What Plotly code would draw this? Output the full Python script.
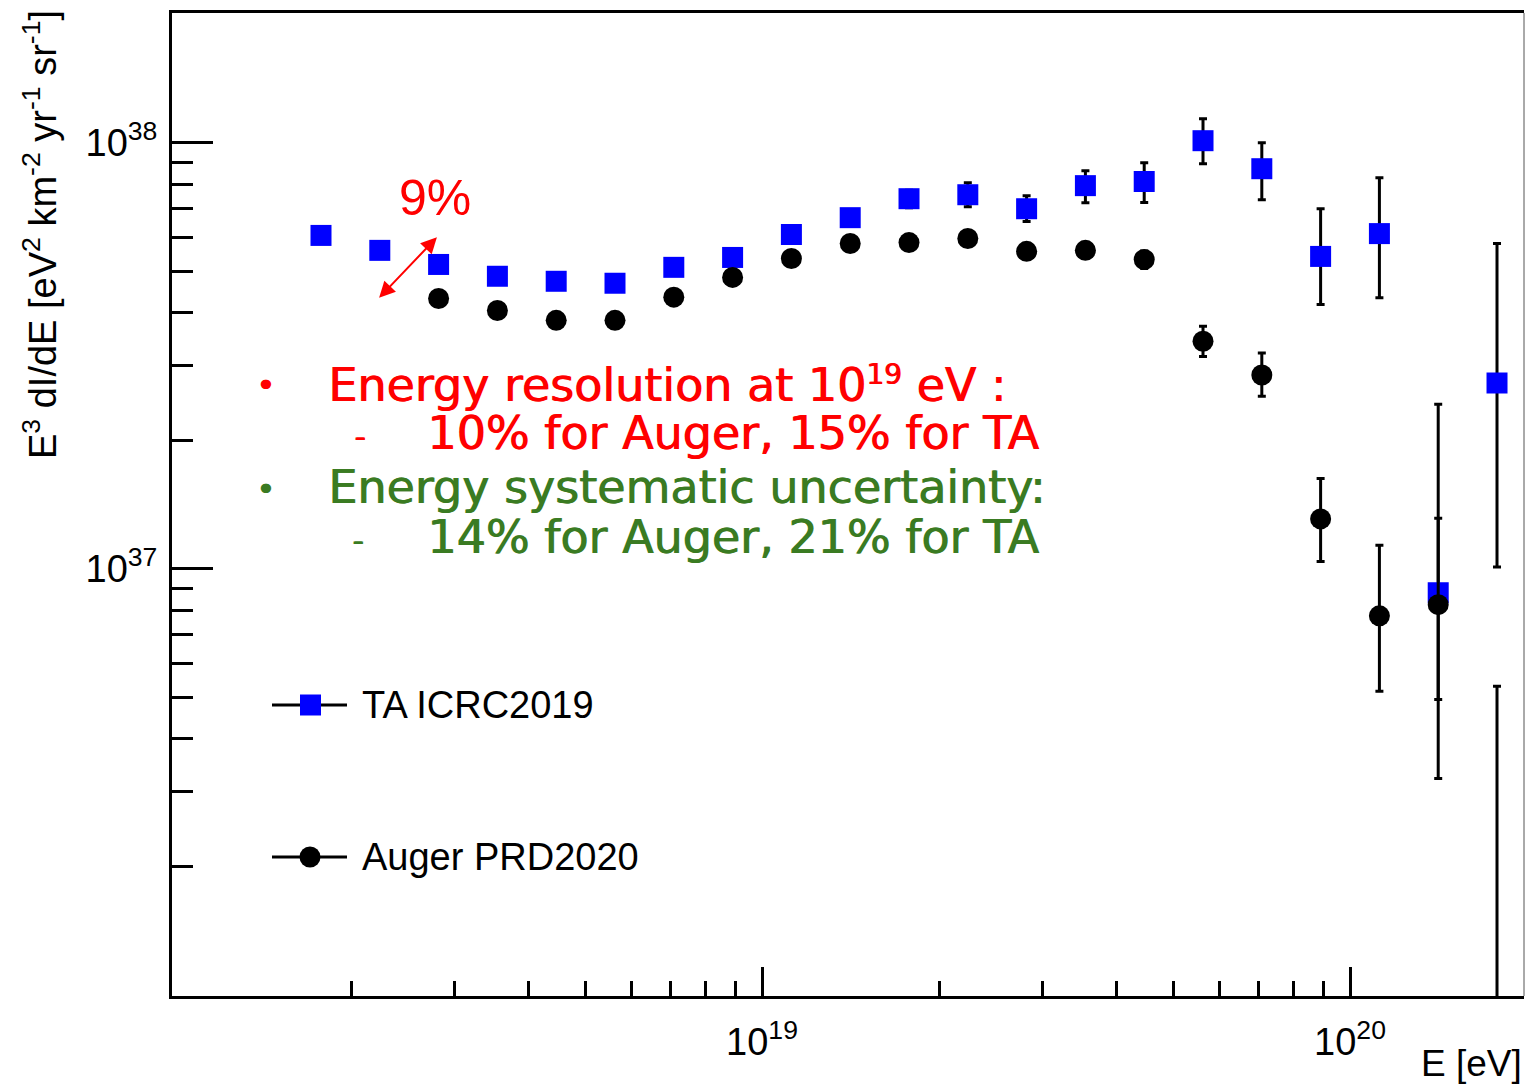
import numpy as np
import plotly.graph_objects as go

# ---------------- data ----------------
# log10(E/eV) bin centres
ta_logE = [18.25, 18.35, 18.45, 18.55, 18.65, 18.75, 18.85, 18.95, 19.05, 19.15, 19.25,
           19.35, 19.45, 19.55, 19.65, 19.75, 19.85, 19.95, 20.05, 20.15, 20.25]
# E^3 J  in units of 1e37 eV^2 km^-2 yr^-1 sr^-1
ta_flux = [6.06, 5.59, 5.18, 4.86, 4.73, 4.68, 5.10, 5.38, 6.09, 6.67, 7.39,
           7.55, 7.00, 7.93, 8.11, 10.11, 8.69, 5.41, 6.12, 0.879, 2.73]
ta_err_up = [0.10, 0.10, 0.10, 0.10, 0.10, 0.10, 0.12, 0.14, 0.18, 0.25, 0.35,
             0.51, 0.51, 0.67, 0.87, 1.27, 1.31, 1.59, 2.16, 1.555, 3.07]
ta_err_dn = [0.10, 0.10, 0.10, 0.10, 0.10, 0.10, 0.12, 0.14, 0.18, 0.25, 0.35,
             0.47, 0.47, 0.70, 0.87, 1.18, 1.34, 1.24, 1.79, 0.557, 1.72]

auger_logE = [18.45, 18.55, 18.65, 18.75, 18.85, 18.95, 19.05, 19.15, 19.25, 19.35,
              19.45, 19.55, 19.65, 19.75, 19.85, 19.95, 20.05, 20.15, 20.25]
auger_flux = [4.31, 4.04, 3.83, 3.83, 4.34, 4.83, 5.35, 5.80, 5.83, 5.96,
              5.56, 5.59, 5.32, 3.42, 2.85, 1.31, 0.776, 0.824, 0.07]
auger_err_up = [0.03, 0.03, 0.03, 0.04, 0.05, 0.06, 0.08, 0.10, 0.12, 0.15,
                0.18, 0.22, 0.25, 0.29, 0.36, 0.32, 0.36, 0.49, 0.46]
auger_err_dn = [0.03, 0.03, 0.03, 0.04, 0.05, 0.06, 0.08, 0.10, 0.12, 0.15,
                0.18, 0.22, 0.25, 0.27, 0.31, 0.27, 0.26, 0.33, 0.0]

UNIT = 1e37

# 9% arrow end points (E in eV, flux in units of 1e37)
arrow_E = [2.22e18, 2.80e18]
arrow_F = [4.29, 6.00]

x_major = [1e19, 1e20]
x_major_text = ["10<sup>19</sup>", "10<sup>20</sup>"]
y_major = [1e37, 1e38]
y_major_text = ["10<sup>37</sup>", "10<sup>38</sup>"]

# ---------------- figure ----------------
W, H = 1526, 1084
L, R, T, B = 172, 1524, 13, 996


def px_x(p):
    return (p - L) / (R - L)


def px_y(p):
    return (B - p) / (B - T)


ta_E = [10.0 ** v for v in ta_logE]
au_E = [10.0 ** v for v in auger_logE]

fig = go.Figure()
fig.add_trace(go.Scatter(
    x=ta_E, y=[v * UNIT for v in ta_flux], mode="markers", name="TA ICRC2019",
    marker=dict(symbol="square", size=21, color="#0000ff", line=dict(width=0)),
    error_y=dict(type="data", symmetric=False,
                 array=[v * UNIT for v in ta_err_up],
                 arrayminus=[v * UNIT for v in ta_err_dn],
                 color="black", thickness=3, width=4),
    showlegend=False,
))
fig.add_trace(go.Scatter(
    x=au_E, y=[v * UNIT for v in auger_flux], mode="markers", name="Auger PRD2020",
    marker=dict(symbol="circle", size=21, color="black", line=dict(width=0)),
    error_y=dict(type="data", symmetric=False,
                 array=[v * UNIT for v in auger_err_up],
                 arrayminus=[v * UNIT for v in auger_err_dn],
                 color="black", thickness=3, width=4),
    showlegend=False,
))

x_minor = [float(k) * 10.0 ** e for e in (18, 19) for k in range(2, 10)]
y_minor = [float(k) * 10.0 ** e for e in (36, 37) for k in range(2, 10)]

tick_font = dict(family="Liberation Sans, Arial, sans-serif", size=38, color="black")

fig.update_xaxes(
    type="log", range=[17.9966, 20.2959],
    showline=True, linecolor="black", linewidth=3, mirror=True,
    showgrid=False, zeroline=False,
    tickmode="array", tickvals=x_major, ticktext=x_major_text,
    ticks="inside", ticklen=29, tickwidth=3, tickcolor="black",
    tickfont=tick_font, ticklabelstandoff=10,
    minor=dict(tickmode="array", tickvals=x_minor, ticks="inside",
               ticklen=15, tickwidth=3, tickcolor="black", showgrid=False),
)
fig.update_yaxes(
    type="log", range=[35.9977, 38.3044],
    showline=True, linecolor="black", linewidth=3, mirror=False,
    showgrid=False, zeroline=False,
    tickmode="array", tickvals=y_major, ticktext=y_major_text,
    ticks="inside", ticklen=41, tickwidth=3, tickcolor="black",
    tickfont=tick_font, ticklabelstandoff=4,
    minor=dict(tickmode="array", tickvals=y_minor, ticks="inside",
               ticklen=21, tickwidth=3, tickcolor="black", showgrid=False),
)

shapes = []
# thin right frame edge
shapes.append(dict(type="line", xref="paper", yref="paper", x0=1, x1=1, y0=0, y1=1,
                   line=dict(color="#555555", width=1)))
# legend keys
for yy, sym in ((705, "square"), (857, "circle")):
    shapes.append(dict(type="line", xref="paper", yref="paper",
                       x0=px_x(272), x1=px_x(347), y0=px_y(yy), y1=px_y(yy),
                       line=dict(color="black", width=3)))
    if sym == "square":
        shapes.append(dict(type="rect", xref="paper", yref="paper",
                           x0=px_x(300), x1=px_x(321), y0=px_y(715.5), y1=px_y(694.5),
                           fillcolor="#0000ff", line=dict(width=0)))
    else:
        shapes.append(dict(type="circle", xref="paper", yref="paper",
                           x0=px_x(299.5), x1=px_x(320.5), y0=px_y(867.5), y1=px_y(846.5),
                           fillcolor="black", line=dict(width=0)))

annotations = []
leg_font = dict(family="Liberation Sans, Arial, sans-serif", size=38, color="black")
annotations.append(dict(xref="paper", yref="paper", x=px_x(360), y=px_y(705),
                        xanchor="left", yanchor="middle", text="TA ICRC2019",
                        showarrow=False, font=leg_font))
annotations.append(dict(xref="paper", yref="paper", x=px_x(360), y=px_y(857),
                        xanchor="left", yanchor="middle", text="Auger PRD2020",
                        showarrow=False, font=leg_font))

# axis titles
annotations.append(dict(xref="paper", yref="paper", x=px_x(40), y=px_y(235),
                        xanchor="center", yanchor="middle", textangle=-90,
                        text="E<sup>3</sup> dI/dE [eV<sup>2</sup> km<sup>-2</sup> yr<sup>-1</sup> sr<sup>-1</sup>]",
                        showarrow=False,
                        font=dict(family="Liberation Sans, Arial, sans-serif", size=38, color="black")))
annotations.append(dict(xref="paper", yref="paper", x=1.0, y=px_y(1063),
                        xanchor="right", yanchor="middle", text="E [eV]", showarrow=False,
                        font=dict(family="Liberation Sans, Arial, sans-serif", size=37, color="black")))

# 9% arrow (double headed)
annotations.append(dict(x=np.log10(arrow_E[1]), y=np.log10(arrow_F[1] * UNIT),
                        ax=np.log10(arrow_E[0]), ay=np.log10(arrow_F[0] * UNIT),
                        xref="x", yref="y", axref="x", ayref="y", text="",
                        showarrow=True, arrowhead=2, startarrowhead=2, arrowside="end+start",
                        arrowsize=1.6, startarrowsize=1.6, arrowwidth=2, arrowcolor="#ff0000",
                        standoff=0, startstandoff=0))
annotations.append(dict(xref="paper", yref="paper", x=px_x(435), y=px_y(198),
                        xanchor="center", yanchor="middle", text="9%", showarrow=False,
                        font=dict(family="Liberation Sans, Arial, sans-serif", size=50, color="#ff0000")))

# text block
RED = "#ff0000"
GREEN = "#3a7b22"
blk_font = "DejaVu Sans, Noto Sans, sans-serif"
lines = [
    (265, 385, "•", RED, "center"),
    (326, 385, "Energy resolution at 10<span style='font-size:40px'><sup>19</sup></span> eV :", RED, "left"),
    (360, 437, "-", RED, "center"),
    (425, 433, "10% for Auger, 15% for TA", RED, "left"),
    (265, 489, "•", GREEN, "center"),
    (326, 487, "Energy systematic uncertainty:", GREEN, "left"),
    (358, 541, "-", GREEN, "center"),
    (425, 537, "14% for Auger, 21% for TA", GREEN, "left"),
]
for xx, yy, txt, col, anc in lines:
    sz = 46 if len(txt) > 1 else 32
    annotations.append(dict(xref="paper", yref="paper", x=px_x(xx), y=px_y(yy),
                            xanchor=anc, yanchor="middle", text=txt, showarrow=False,
                            font=dict(family=blk_font, size=sz, color=col,
                                      shadow="0.9px 0px 0px " + col)))

fig.update_layout(
    width=W, height=H,
    margin=dict(l=L, r=W - R, t=T, b=H - B, pad=0),
    paper_bgcolor="white", plot_bgcolor="white",
    shapes=shapes, annotations=annotations,
    showlegend=False,
)

fig.write_html("out.html")
